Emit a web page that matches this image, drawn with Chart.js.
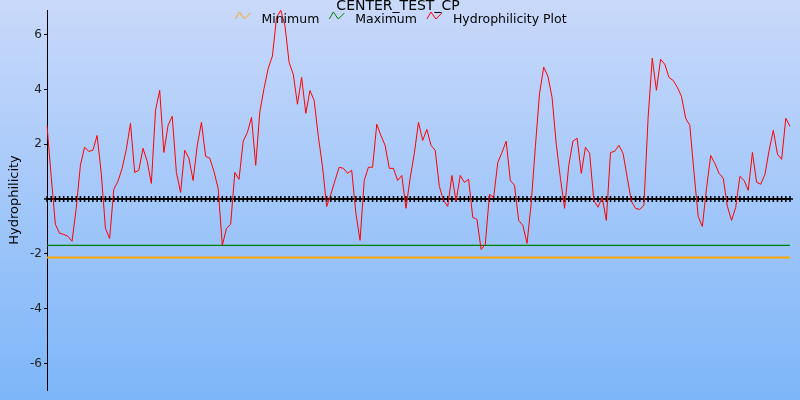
<!DOCTYPE html>
<html>
<head>
<meta charset="utf-8">
<script src="https://cdn.jsdelivr.net/npm/chart.js@4/dist/chart.umd.min.js"></script>
<style>
html, body { margin: 0; padding: 0; background: #fff; }
</style>
</head>
<body>
<canvas id="myChart" width="800" height="400"></canvas>
<script>
const chartTitle = 'CENTER_TEST_CP';
const yTitle = 'Hydrophilicity';

// hydrophilicity per residue
const hydrophilicity = [
  2.69, 0.83, -0.92, -1.25, -1.29, -1.36, -1.54, -0.34, 1.23, 1.89,
  1.74, 1.78, 2.32, 0.94, -1.07, -1.44, 0.35, 0.65, 1.12, 1.81,
  2.76, 0.97, 1.05, 1.85, 1.38, 0.57, 3.24, 3.97, 1.70, 2.69,
  3.02, 0.97, 0.24, 1.78, 1.49, 0.68, 1.96, 2.80, 1.56, 1.49,
  1.01, 0.39, -1.69, -1.07, -0.92, 0.97, 0.72, 2.11, 2.43, 2.98,
  1.23, 3.20, 4.04, 4.77, 5.22, 6.63, 6.89, 6.34, 4.99, 4.55,
  3.46, 4.44, 3.13, 3.96, 3.60, 2.29, 1.19, -0.27, 0.17, 0.68,
  1.16, 1.12, 0.94, 1.05, -0.52, -1.51, 0.68, 1.16, 1.16, 2.73,
  2.32, 1.96, 1.12, 1.12, 0.68, 0.86, -0.34, 0.76, 1.67, 2.80,
  2.14, 2.54, 1.96, 1.78, 0.46, -0.05, -0.27, 0.86, -0.08, 0.86,
  0.61, 0.72, -0.67, -0.74, -1.84, -1.65, 0.17, 0.06, 1.34, 1.70,
  2.11, 0.68, 0.50, -0.78, -0.96, -1.62, -0.16, 1.92, 3.86, 4.81,
  4.48, 3.71, 2.00, 0.76, -0.34, 1.23, 2.11, 2.22, 0.94, 1.89,
  1.67, -0.05, -0.30, 0.06, -0.78, 1.70, 1.74, 1.96, 1.67, 0.79,
  -0.08, -0.34, -0.38, -0.23, 2.95, 5.14, 3.97, 5.10, 4.92, 4.44,
  4.33, 4.08, 3.75, 2.95, 2.69, 0.97, -0.63, -1.00, 0.39, 1.59,
  1.30, 0.94, 0.76, -0.27, -0.78, -0.30, 0.83, 0.68, 0.32, 1.70,
  0.61, 0.54, 0.90, 1.78, 2.51, 1.63, 1.45, 2.95, 2.65
];
const minimumValue = -2.13;
const maximumValue = -1.69;
const baselineValue = 0;
const yTicks = [-6, -4, -2, 2, 4, 6];

const residues = hydrophilicity.map((v, i) => i + 1);

const bgPlugin = {
  id: 'bg',
  beforeDraw(chart) {
    const c = chart.ctx;
    const g = c.createLinearGradient(0, 0, 0, chart.height);
    g.addColorStop(0, '#c9d9fa');
    g.addColorStop(1, '#7db6f9');
    c.save();
    c.fillStyle = g;
    c.fillRect(0, 0, chart.width, chart.height);
    c.restore();
  }
};

// title + zigzag legend drawn over the plot, like the original
const topTextPlugin = {
  id: 'topText',
  afterDraw(chart) {
    const c = chart.ctx;
    c.save();
    c.fillStyle = '#000';
    c.textAlign = 'center';
    c.textBaseline = 'alphabetic';
    c.font = '14px "DejaVu Sans"';
    c.fillText(chartTitle, 398, 9.5);

    c.font = '12.5px "DejaVu Sans"';
    c.textAlign = 'left';
    const items = chart.data.datasets.filter(d => d.label);
    const iconW = 16, iconGap = 10, itemGap = 10;
    let total = 0;
    items.forEach(d => { total += iconW + iconGap + c.measureText(d.label).width + itemGap; });
    total -= itemGap;
    let x = 401 - total / 2;
    const top = 12;
    items.forEach(d => {
      c.strokeStyle = d.borderColor;
      c.lineWidth = 1;
      c.beginPath();
      c.moveTo(x, top + 7);
      c.lineTo(x + 4, top);
      c.lineTo(x + 9, top + 7);
      c.lineTo(x + 15, top + 1);
      c.stroke();
      x += iconW + iconGap;
      c.fillStyle = '#000';
      c.fillText(d.label, x, 23);
      x += c.measureText(d.label).width + itemGap;
    });
    c.restore();
  }
};

let ctx = document.querySelector('#myChart');

let grafico = new Chart(ctx, {
  type: 'line',
  data: {
    labels: residues,
    datasets: [
      {
        label: 'Minimum',
        data: residues.map(() => minimumValue),
        borderColor: '#ffa500',
        borderWidth: 2,
        pointRadius: 0,
        order: 3,
      },
      {
        label: 'Maximum',
        data: residues.map(() => maximumValue),
        borderColor: '#008000',
        borderWidth: 1.2,
        pointRadius: 0,
        order: 2,
      },
      {
        label: 'Hydrophilicity Plot',
        data: hydrophilicity,
        borderColor: '#ff0000',
        borderWidth: 1,
        pointRadius: 0,
        order: 0,
      },
      {
        label: '',
        data: residues.map(() => baselineValue),
        borderColor: '#000',
        borderWidth: 2,
        pointStyle: 'cross',
        pointRadius: 3,
        pointBorderWidth: 1.5,
        pointBorderColor: '#000',
        order: 1,
      },
    ],
  },
  options: {
    responsive: false,
    animation: false,
    events: [],
    layout: { padding: { top: 10, right: 10, bottom: 10, left: 0 } },
    plugins: {
      legend: { display: false },
      title: { display: false },
      tooltip: { enabled: false },
    },
    scales: {
      x: { display: false },
      y: {
        min: -6.97,
        max: 6.9,
        afterFit(scale) { scale.width = 47; },
        afterBuildTicks(scale) { scale.ticks = yTicks.map(v => ({ value: v })); },
        border: { color: '#000', width: 1 },
        grid: { drawOnChartArea: false, color: '#000', tickLength: 3 },
        ticks: {
          color: '#222',
          padding: 2,
          font: { family: 'DejaVu Sans', size: 12 },
          callback: v => String(v),
        },
        title: {
          display: true,
          text: yTitle,
          color: '#000',
          font: { family: 'DejaVu Sans', size: 13 },
          padding: { top: 7, bottom: 0 },
        },
      },
    },
  },
  plugins: [bgPlugin, topTextPlugin],
});
</script>
</body>
</html>
